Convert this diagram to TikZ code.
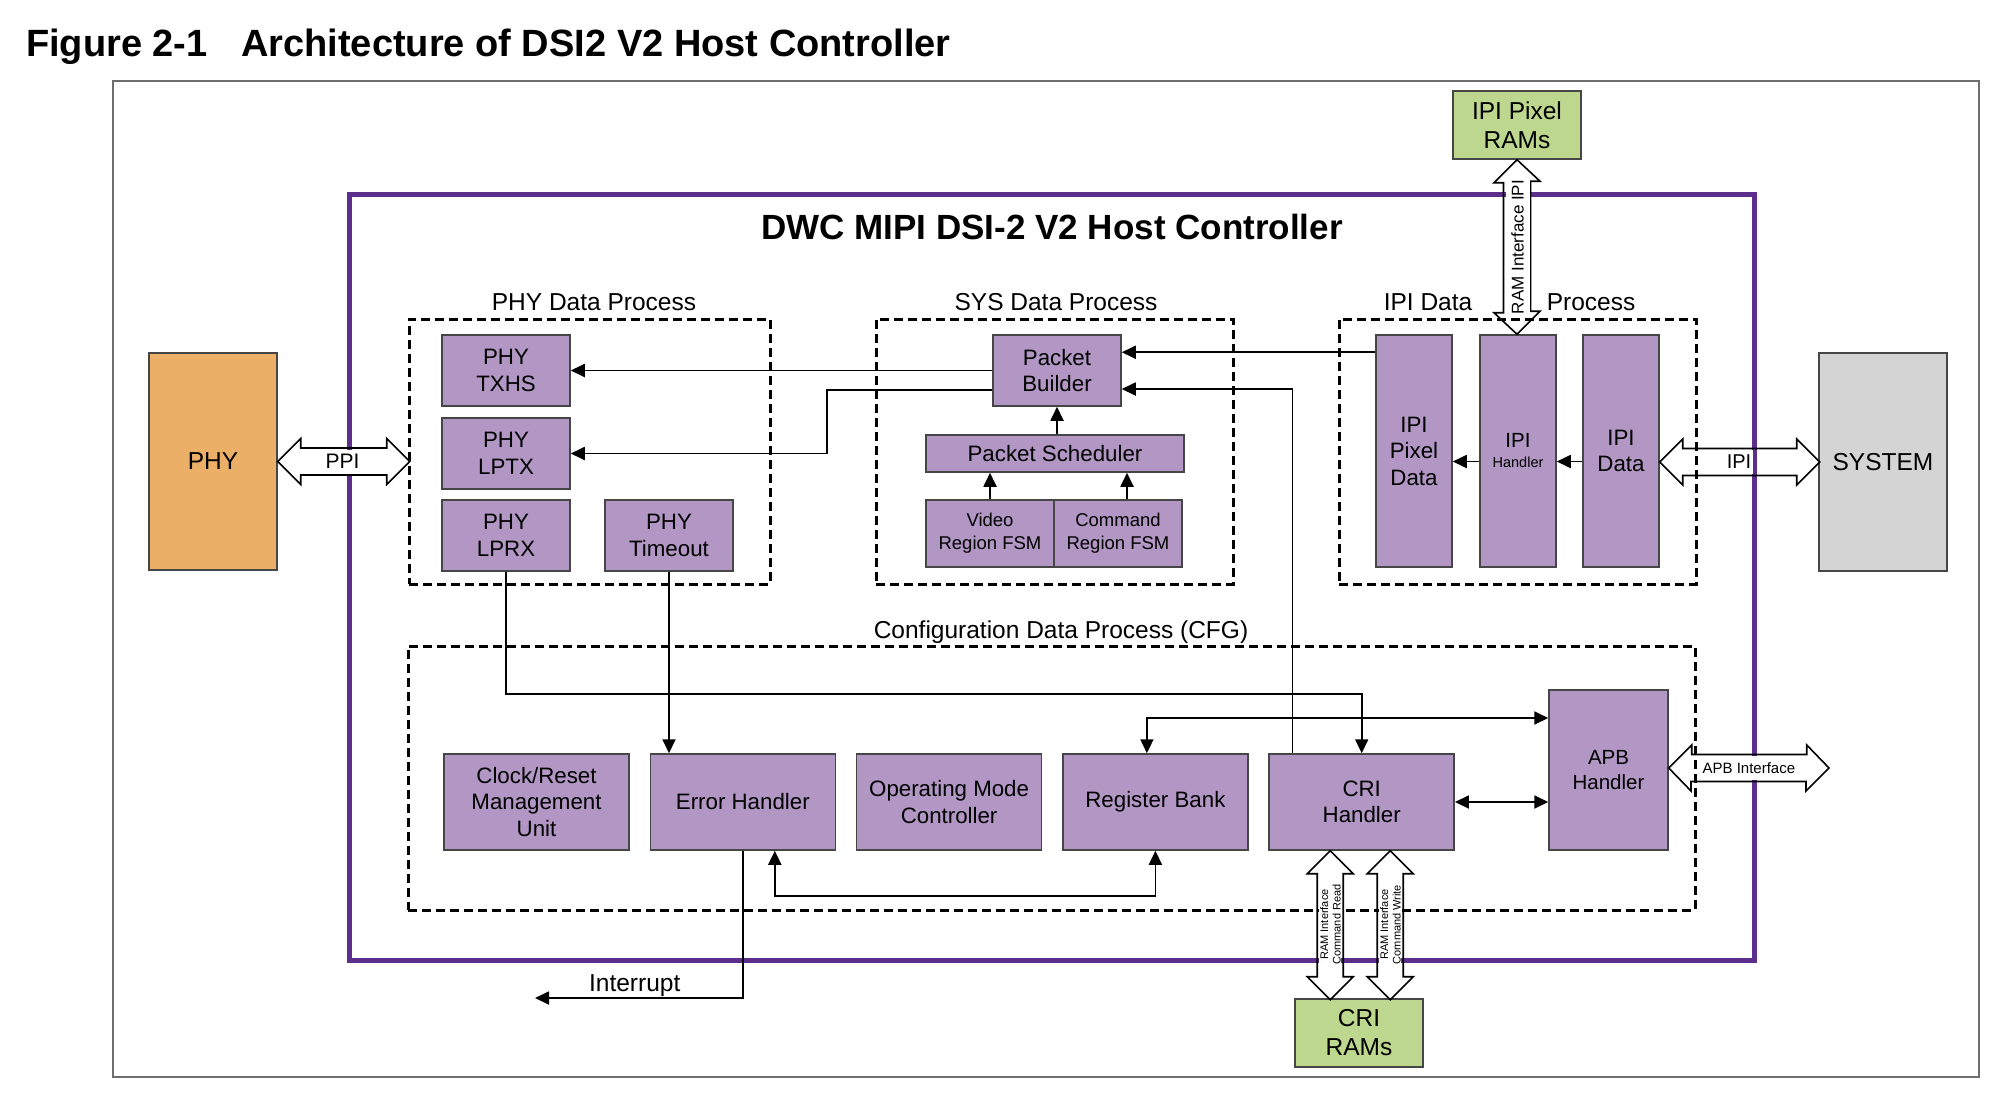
\documentclass[tikz,border=0pt]{standalone}
\usepackage{fontspec}
\setmainfont{Liberation Sans}
\usetikzlibrary{positioning, calc, arrows.meta}

\definecolor{boxpurple}{RGB}{178,150,196}
\definecolor{boxline}{RGB}{70,70,70}
\definecolor{dwcpurple}{RGB}{93,46,140}
\definecolor{phyorange}{RGB}{235,175,103}
\definecolor{sysgray}{RGB}{211,212,211}
\definecolor{ramgreen}{RGB}{189,215,142}
\definecolor{framegray}{RGB}{110,110,110}

\begin{document}
\begin{tikzpicture}[x=1pt, y=-1pt, node distance={206.3pt},
    blk/.style = {draw=boxline, fill=boxpurple, line width=1.5pt, align=center, inner sep=0pt, font=\fontsize{22.3}{26.5}\selectfont},
    cell/.style = {blk, minimum width=128pt, minimum height=71pt},
    tall/.style = {blk, minimum width=76pt, minimum height=232pt},
    wide/.style = {blk, minimum width=185pt, minimum height=96pt},
    ext/.style = {draw=boxline, line width=1.5pt, align=center, inner sep=0pt, minimum width=128pt, font=\fontsize{24.5}{29}\selectfont},
    grp/.style = {draw, line width=3pt, dash pattern=on 9pt off 5pt, inner sep=0pt},
    glbl/.style = {anchor=base, inner sep=0pt, font=\fontsize{24.5}{29}\selectfont},
    arr/.style = {line width=1.8pt, -{Triangle[length=14pt, width=13pt]}},
    dbl/.style = {line width=1.8pt, {Triangle[length=14pt, width=13pt]}-{Triangle[length=14pt, width=13pt]}},
    fat/.style = {draw, line width=1.6pt, line join=miter},
    fatlbl/.style = {fill=white, inner xsep=1.5pt, inner ysep=0pt, minimum height=24pt}]

    \useasboundingbox (0,0) rectangle (2013,1106);

    \node[anchor=base west, inner sep=0pt, font=\bfseries\fontsize{38}{44}\selectfont] (fignum) at (26,56) {Figure 2-1};
    \node[anchor=base west, inner sep=0pt, font=\bfseries\fontsize{38}{44}\selectfont] (figtitle) at (241,56) {Architecture of DSI2 V2 Host Controller};

    \node[draw=framegray, line width=2pt, minimum width=1866pt, minimum height=996pt] (outer) at (1046,579) {};
    \node[draw=dwcpurple, line width=5pt, minimum width=1405pt, minimum height=766pt] (dwc) at (1051.5,577) {};
    \node[anchor=base, inner sep=0pt, font=\bfseries\fontsize{35}{40}\selectfont] (dwctitle) at (1052,239) {DWC MIPI DSI-2 V2 Host Controller};

    \node[grp, minimum width=361pt, minimum height=265pt] (phyproc) at (589.5,451.5) {};
    \node[grp, minimum width=357pt, minimum height=265pt] (sysproc) at (1054.5,451.5) {};
    \node[grp, minimum width=357pt, minimum height=265pt] (ipiproc) at (1517.5,451.5) {};
    \node[grp, minimum width=1287pt, minimum height=264pt] (cfgproc) at (1051.5,778) {};
    \node[glbl] (phylbl) at (594,310) {PHY Data Process};
    \node[glbl] (syslbl) at (1056,310) {SYS Data Process};
    \node[glbl] (ipilbl) at (1428,310) {IPI Data};
    \node[glbl] (ipilbl2) at (1591,310) {Process};
    \node[glbl] (cfglbl) at (1061,638) {Configuration Data Process (CFG)};

    \node[ext, fill=phyorange, minimum height=217pt] (phy) at (213,461.5) {PHY};
    \node[ext, fill=sysgray, minimum height=218pt] (system) at (1883,462) {SYSTEM};
    \node[ext, fill=ramgreen, minimum height=68pt] (ipiram) at (1517,125) {IPI Pixel\\RAMs};
    \node[ext, fill=ramgreen, minimum height=68pt] (criram) at (1359,1033) {CRI\\RAMs};

    \node[cell] (txhs) at (506,370.5) {PHY\\TXHS};
    \node[cell, node distance=83pt, below of=txhs] (lptx) {PHY\\LPTX};
    \node[cell, node distance=82pt, below of=lptx] (lprx) {PHY\\LPRX};
    \node[cell, node distance=163pt, right of=lprx] (timeout) {PHY\\Timeout};

    \node[cell] (builder) at (1057,370.5) {Packet\\Builder};
    \node[blk, minimum width=258pt, minimum height=37pt] (sched) at (1055,453.5) {Packet Scheduler};
    \node[blk, minimum width=128pt, minimum height=67pt, font=\fontsize{18.5}{23}\selectfont] (video) at (990,533.5) {Video\\Region FSM};
    \node[blk, minimum width=128pt, minimum height=67pt, font=\fontsize{18.5}{23}\selectfont, node distance=128pt, right of=video] (command) {Command\\Region FSM};

    \node[tall] (pixdata) at (1414,451) {IPI\\Pixel\\Data};
    \node[tall, font=\fontsize{20.5}{24}\selectfont, node distance=104pt, right of=pixdata] (ipihdl) {IPI\\[-4pt]{\fontsize{14.5}{17}\selectfont Handler}};
    \node[tall, node distance=103pt, right of=ipihdl] (ipidata) {IPI\\Data};

    \node[wide] (clkrst) at (536.5,802) {Clock/Reset\\Management\\Unit};
    \node[wide, right of=clkrst] (errhdl) {Error Handler};
    \node[wide, right of=errhdl] (opmode) {Operating Mode\\Controller};
    \node[wide, right of=opmode] (regbank) {Register Bank};
    \node[wide, right of=regbank] (crihdl) {CRI\\Handler};
    \node[blk, minimum width=119pt, minimum height=160pt, font=\fontsize{20.5}{24.5}\selectfont] (apbhdl) at (1608.5,770) {APB\\Handler};

    \coordinate (apbend) at (1829,768);
    \coordinate (irq) at (535,998);

    \draw[arr] (builder.west) -- (txhs.east);
    \draw[arr] ([yshift=-19.5pt]builder.west) -- ++(-165,0) |- (lptx.east);
    \draw[arr] (sched.north -| builder) -- (builder);
    \draw[arr] (video) -- (video |- sched.south);
    \draw[arr] ([xshift=9pt]command.north) -- ([xshift=9pt]command.north |- sched.south);
    \draw[arr] ([yshift=-18pt]pixdata.north west) -- ([yshift=-18pt]builder.north east);
    \draw[arr] ([xshift=24pt]crihdl.north west) |- ([yshift=-18.5pt]builder.east);
    \draw[arr] ([yshift=-10.5pt]ipidata.west) -- ([yshift=-10.5pt]ipihdl.east);
    \draw[arr] ([yshift=-10.5pt]ipihdl.west) -- ([yshift=-10.5pt]pixdata.east);
    \draw[arr] (lprx.south) -- ++(0,122) -| (crihdl.north);
    \draw[arr] (timeout.south) -- (timeout.south |- errhdl.north);
    \draw[dbl] ([xshift=-8.5pt]regbank.north) |- ([yshift=52pt]apbhdl.west);
    \draw[dbl] (crihdl.east) -- (crihdl.east -| apbhdl.west);
    \draw[dbl] ([xshift=32pt]errhdl.south) -- ++(0,45) -| (regbank.south);
    \draw[arr] (errhdl.south) |- (irq) node[pos=0.76, above, inner sep=1pt, font=\fontsize{24.5}{29}\selectfont] {Interrupt};

    \draw[fat] (phy.east) -- ++(23,-23) -- ++(0,9.5) -- ++(86,0) -- ++(0,-9.5) -- ++(23,23) -- ++(-23,23) -- ++(0,-9.5) -- ++(-86,0) -- ++(0,9.5) -- cycle;
    \draw[fat] (ipidata.east |- system.west) -- ++(23,-23) -- ++(0,9.5) -- ++(114,0) -- ++(0,-9.5) -- ++(23,23) -- ++(-23,23) -- ++(0,-9.5) -- ++(-114,0) -- ++(0,9.5) -- cycle;
    \draw[fat] (apbhdl.east |- apbend) -- ++(23,-23) -- ++(0,9.5) -- ++(115,0) -- ++(0,-9.5) -- (apbend) -- ++(-23,23) -- ++(0,-9.5) -- ++(-115,0) -- ++(0,9.5) -- cycle;
    \draw[fat] (ipiram.south) -- ++(-23,23) -- ++(9.5,0) -- ++(0,130) -- ++(-9.5,0) -- (ipihdl.north -| ipiram.south) -- ++(23,-23) -- ++(-9.5,0) -- ++(0,-130) -- ++(9.5,0) -- cycle;
    \draw[fat] ([xshift=-31.5pt]crihdl.south) -- ++(-23,23) -- ++(10,0) -- ++(0,103) -- ++(-10,0) -- ++(23,23) -- ++(23,-23) -- ++(-10,0) -- ++(0,-103) -- ++(10,0) -- cycle;
    \draw[fat] ([xshift=28.5pt]crihdl.south) -- ++(-23,23) -- ++(10,0) -- ++(0,103) -- ++(-10,0) -- ++(23,23) -- ++(23,-23) -- ++(-10,0) -- ++(0,-103) -- ++(10,0) -- cycle;

    \node[fatlbl, font=\fontsize{21}{25}\selectfont] (ppi) at ($(phy.east)!0.5!(phy.east -| phyproc.west)$) {PPI};
    \node[fatlbl, font=\fontsize{20}{24}\selectfont] (ipilink) at ($(ipidata.east |- system.west)!0.5!(system.west)$) {IPI};
    \node[fatlbl, font=\fontsize{15}{18}\selectfont] (apbif) at ($(apbhdl.east |- apbend)!0.5!(apbend)$) {APB Interface};
    \node[fatlbl, rotate=90, font=\fontsize{17}{20}\selectfont] (ramipi) at ($(ipiram.south)!0.5!(ipihdl.north)$) {RAM Interface IPI};
    \node[fatlbl, rotate=90, align=center, minimum height=22pt, font=\fontsize{11}{12.5}\selectfont] (ramrd) at ($(crihdl.south)!0.5!(criram.north)+(-30,0)$) {RAM Interface\\Command Read};
    \node[fatlbl, rotate=90, align=center, minimum height=22pt, font=\fontsize{11}{12.5}\selectfont] (ramwr) at ($(crihdl.south)!0.5!(criram.north)+(30,0)$) {RAM Interface\\Command Write};

\end{tikzpicture}
\end{document}
